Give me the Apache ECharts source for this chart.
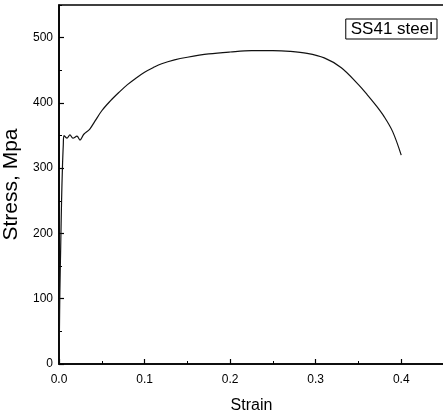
<!DOCTYPE html>
<html>
<head>
<meta charset="utf-8">
<script src="https://cdn.jsdelivr.net/npm/echarts@6/dist/echarts.min.js"></script>
<style>
  html, body { margin: 0; padding: 0; background: #fff; }
  #chart { width: 443px; height: 417px; }
</style>
</head>
<body>
<div id="chart"></div>
<script>
// Engineering stress-strain curve of SS41 structural steel
const seriesName = 'SS41 steel';
const strain = [0, 0.0005, 0.001, 0.002, 0.003, 0.004, 0.005, 0.0058, 0.0093, 0.0128, 0.0163,
  0.021, 0.0245, 0.029, 0.036, 0.042, 0.05, 0.06, 0.07, 0.08, 0.09, 0.1, 0.11, 0.12, 0.135,
  0.15, 0.175, 0.2, 0.225, 0.25, 0.27, 0.29, 0.31, 0.33, 0.35, 0.36, 0.37, 0.38, 0.39, 0.4];
const stress = [0, 50, 110, 180, 250, 300, 335, 350, 346, 351, 346,
  349, 343, 352, 360, 372, 388, 403, 416, 428, 438, 447, 454, 460, 466,
  470, 475, 478, 480, 480, 479, 476, 469, 454, 428, 413, 397, 379, 356, 320];
const xTickLabels = ['0.0', '0.1', '0.2', '0.3', '0.4'];
const yTickLabels = ['0', '100', '200', '300', '400', '500'];

const FONT = '"Liberation Sans", Arial, Helvetica, sans-serif';
const chart = echarts.init(document.getElementById('chart'), null, { renderer: 'canvas' });

const points = strain.map((s, i) => [s, stress[i]]);

const axisBase = {
  axisLine: { show: true, onZero: false, lineStyle: { color: '#000', width: 1.6 } },
  splitLine: { show: false }
};

chart.setOption({
  animation: false,
  backgroundColor: '#fff',
  grid: {
    left: 59, top: 5, width: 385, height: 359,
    outerBoundsMode: 'none', containLabel: false,
    show: true, borderColor: '#000', borderWidth: 1.6, backgroundColor: 'transparent'
  },
  legend: {
    data: [{ name: seriesName, icon: 'none' }],
    right: 6, top: 19,
    itemWidth: 0, itemHeight: 0, itemGap: 0,
    padding: [2, 4, 1, 0],
    borderColor: '#000', borderWidth: 1,
    backgroundColor: '#fff',
    textStyle: { fontFamily: FONT, fontSize: 17, color: '#000' }
  },
  xAxis: [
    Object.assign({}, axisBase, {
      type: 'value', min: 0, max: 0.45, interval: 0.1,
      name: 'Strain', nameLocation: 'middle', nameGap: 34,
      nameTextStyle: { fontFamily: FONT, fontSize: 16, color: '#000' },
      axisTick: { show: true, inside: true, length: 5, lineStyle: { color: '#000', width: 1.2 } },
      axisLabel: {
        margin: 10, fontFamily: FONT, fontSize: 12, color: '#000', showMaxLabel: false,
        formatter: v => xTickLabels[Math.round(v * 10)] || ''
      }
    }),
    // minor ticks every 0.05
    {
      type: 'value', min: 0, max: 0.45, interval: 0.05, position: 'bottom',
      axisLine: { show: false }, splitLine: { show: false }, axisLabel: { show: false },
      axisTick: { show: true, inside: true, length: 3, lineStyle: { color: '#000', width: 1 } }
    }
  ],
  yAxis: [
    Object.assign({}, axisBase, {
      type: 'value', min: 0, max: 550, interval: 100,
      name: 'Stress, Mpa', nameLocation: 'middle', nameGap: 32, nameRotate: 90,
      nameTextStyle: { fontFamily: FONT, fontSize: 21, color: '#000' },
      axisTick: { show: true, inside: true, length: 5, lineStyle: { color: '#000', width: 1.2 } },
      axisLabel: {
        margin: 6, fontFamily: FONT, fontSize: 12, color: '#000', showMaxLabel: false,
        formatter: v => yTickLabels[Math.round(v / 100)] || ''
      }
    }),
    // minor ticks every 50
    {
      type: 'value', min: 0, max: 550, interval: 50, position: 'left',
      axisLine: { show: false }, splitLine: { show: false }, axisLabel: { show: false },
      axisTick: { show: true, inside: true, length: 3, lineStyle: { color: '#000', width: 1 } }
    }
  ],
  series: [{
    name: seriesName,
    type: 'line',
    data: points,
    showSymbol: false,
    smooth: 0.35,
    lineStyle: { color: '#111', width: 1.2 },
    itemStyle: { color: '#111' },
    clip: true
  }]
});
</script>
</body>
</html>
